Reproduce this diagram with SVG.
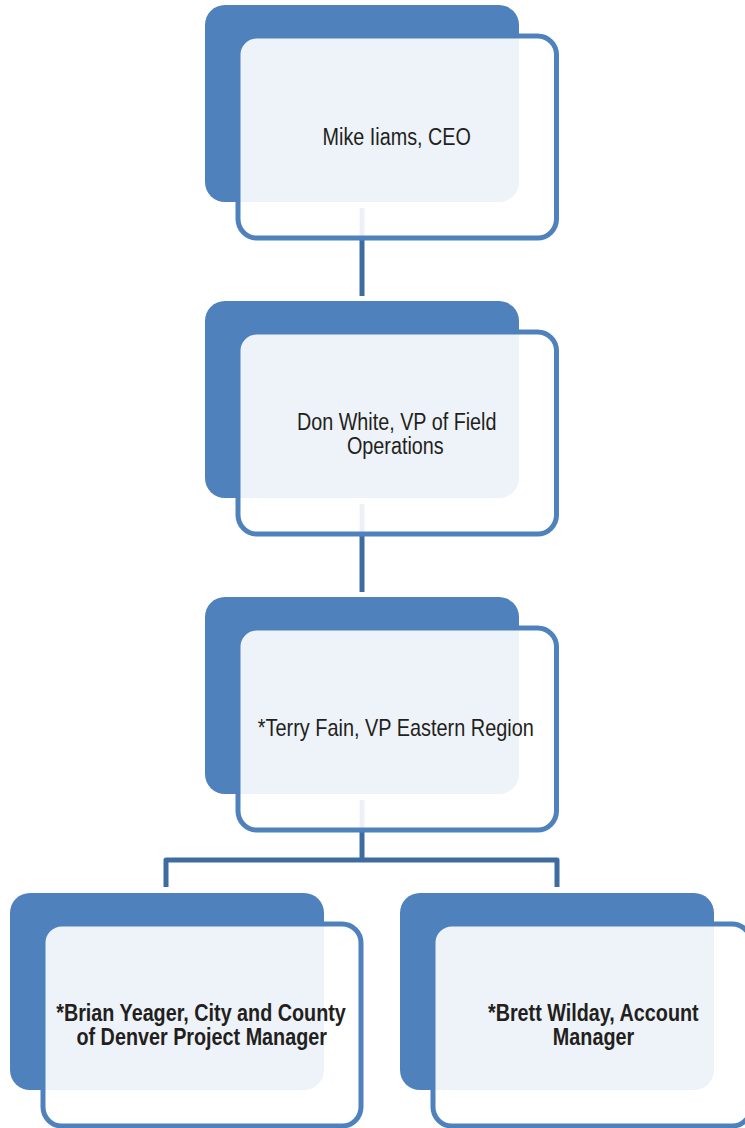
<svg xmlns="http://www.w3.org/2000/svg" width="745" height="1128" viewBox="0 0 745 1128">
  <style>
    .back { fill: #4F81BD; }
    .front { fill: #FFFFFF; fill-opacity: 0.9; stroke: #4F81BD; stroke-width: 5; }
    .conn { fill: none; stroke: #3E6CA0; stroke-width: 5; stroke-linejoin: round; }
    .lbl { font-family: "Liberation Sans", Arial, sans-serif; font-size: 23px; fill: #231F20; text-anchor: middle; }
    .bold { font-weight: bold; }
  </style>
  <rect width="745" height="1128" fill="#FFFFFF"/>
  <g id="connectors">
    <path class="conn" d="M362,208 V296"/>
    <path class="conn" d="M362,504 V592"/>
    <path class="conn" d="M362,800 V860"/>
    <path class="conn" d="M166,887 V860 H557 V887"/>
  </g>
  <g id="node-ceo">
    <rect class="back" x="205" y="5" width="314" height="197" rx="20"/>
    <rect class="front" x="238" y="36" width="318.5" height="202" rx="19"/>
    <text class="lbl" transform="translate(396.7,145) scale(0.86,1)">Mike Iiams, CEO</text>
  </g>
  <g id="node-vp-field">
    <rect class="back" x="205" y="301" width="314" height="197" rx="20"/>
    <rect class="front" x="238" y="332" width="318.5" height="202" rx="19"/>
    <text class="lbl" transform="translate(396.7,430) scale(0.86,1)">Don White, VP of Field</text>
    <text class="lbl" transform="translate(395.3,453.5) scale(0.86,1)">Operations</text>
  </g>
  <g id="node-vp-eastern">
    <rect class="back" x="205" y="597" width="314" height="197" rx="20"/>
    <rect class="front" x="238" y="628" width="318.5" height="202" rx="19"/>
    <text class="lbl" transform="translate(395.8,736) scale(0.865,1)">*Terry Fain, VP Eastern Region</text>
  </g>
  <g id="node-brian">
    <rect class="back" x="10" y="893" width="314" height="197" rx="20"/>
    <rect class="front" x="43" y="924" width="318" height="202" rx="19"/>
    <text class="lbl bold" transform="translate(201,1021) scale(0.86,1)">*Brian Yeager, City and County</text>
    <text class="lbl bold" transform="translate(201.7,1044.5) scale(0.86,1)">of Denver Project Manager</text>
  </g>
  <g id="node-brett">
    <rect class="back" x="400" y="893" width="314" height="197" rx="20"/>
    <rect class="front" x="433" y="924" width="318" height="202" rx="19"/>
    <text class="lbl bold" transform="translate(593.3,1021) scale(0.86,1)">*Brett Wilday, Account</text>
    <text class="lbl bold" transform="translate(593.5,1044.5) scale(0.86,1)">Manager</text>
  </g>
</svg>
